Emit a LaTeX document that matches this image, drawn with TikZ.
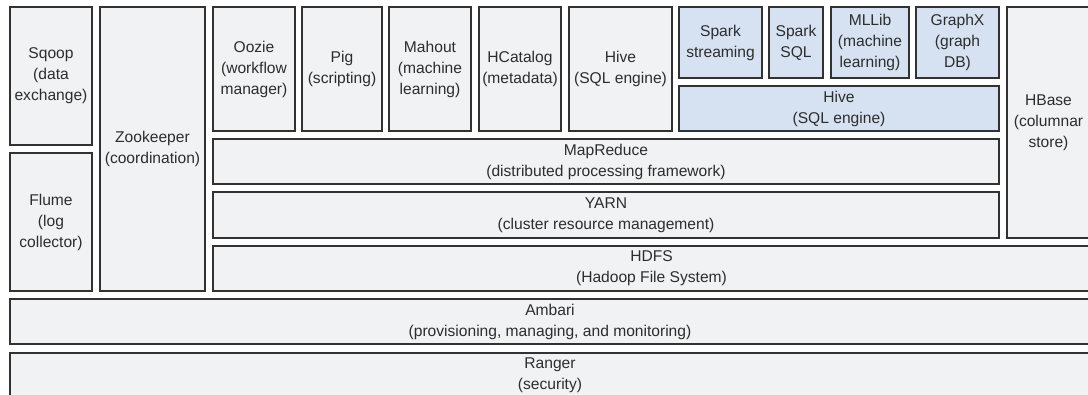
\documentclass[tikz,border=0pt]{standalone}
\usepackage{fontspec}
\setmainfont{Liberation Sans}
\usetikzlibrary{positioning}

\begin{document}
\begin{tikzpicture}[
    x=1pt, y=-1pt,
    every node/.style={draw=edge, line width=1.3pt, rectangle, anchor=north west, outer sep=0pt, inner sep=0pt, align=center, text=ink, font=\fontsize{15.6}{21}\selectfont},
    box/.style={fill=greybox},
    sparkbox/.style={fill=bluebox}
]

% Colors
\definecolor{greybox}{RGB}{241, 242, 244} % hadoop parts
\definecolor{bluebox}{RGB}{214, 226, 242} % spark parts
\definecolor{edge}{RGB}{50, 50, 50}
\definecolor{ink}{RGB}{45, 45, 45}

\useasboundingbox (0,0) rectangle (1088,394);
\clip (0,0) rectangle (1088,394);

% Nodes
\node (sqoop) [box, minimum width=82, minimum height=138] at (10,7) {Sqoop\\(data\\exchange)};
\node (flume) [box, minimum width=82, minimum height=138] at (10,153) {Flume\\(log\\collector)};
\node (zookeeper) [box, minimum width=105, minimum height=284] at (100,7) {Zookeeper\\(coordination)};

\node (oozie) [box, minimum width=82, minimum height=124] at (213,7) {Oozie\\(workflow\\manager)};
\node (pig) [box, minimum width=80, minimum height=124] at (302,7) {Pig\\(scripting)};
\node (mahout) [box, minimum width=82, minimum height=124] at (389,7) {Mahout\\(machine\\learning)};
\node (hcatalog) [box, minimum width=82, minimum height=124] at (479,7) {HCatalog\\(metadata)};
\node (hive) [box, minimum width=103, minimum height=124] at (569,7) {Hive\\(SQL engine)};

\node (spark_stream) [sparkbox, minimum width=83, minimum height=71] at (679,7) {Spark\\streaming};
\node (spark_sql) [sparkbox, minimum width=54, minimum height=71] at (769,7) {Spark\\SQL};
\node (mllib) [sparkbox, minimum width=78, minimum height=71] at (831,7) {MLLib\\(machine\\learning)};
\node (graphx) [sparkbox, minimum width=83, minimum height=71] at (916,7) {GraphX\\(graph\\DB)};
\node (spark_hive) [sparkbox, minimum width=320, minimum height=45] at (679,86) {Hive\\(SQL engine)};

\node (hbase) [box, minimum width=83, minimum height=231] at (1007,7) {HBase\\(columnar\\store)};

\node (mapreduce) [box, minimum width=786, minimum height=45] at (213,139) {MapReduce\\(distributed processing framework)};
\node (yarn) [box, minimum width=786, minimum height=46] at (213,192) {YARN\\(cluster resource management)};
\node (hdfs) [box, minimum width=877, minimum height=45] at (213,246) {HDFS\\(Hadoop File System)};

\node (ambari) [box, minimum width=1080, minimum height=45] at (10,299) {Ambari\\(provisioning, managing, and monitoring)};
\node (ranger) [box, minimum width=1080, minimum height=45] at (10,353) {Ranger\\(security)};

\end{tikzpicture}
\end{document}
